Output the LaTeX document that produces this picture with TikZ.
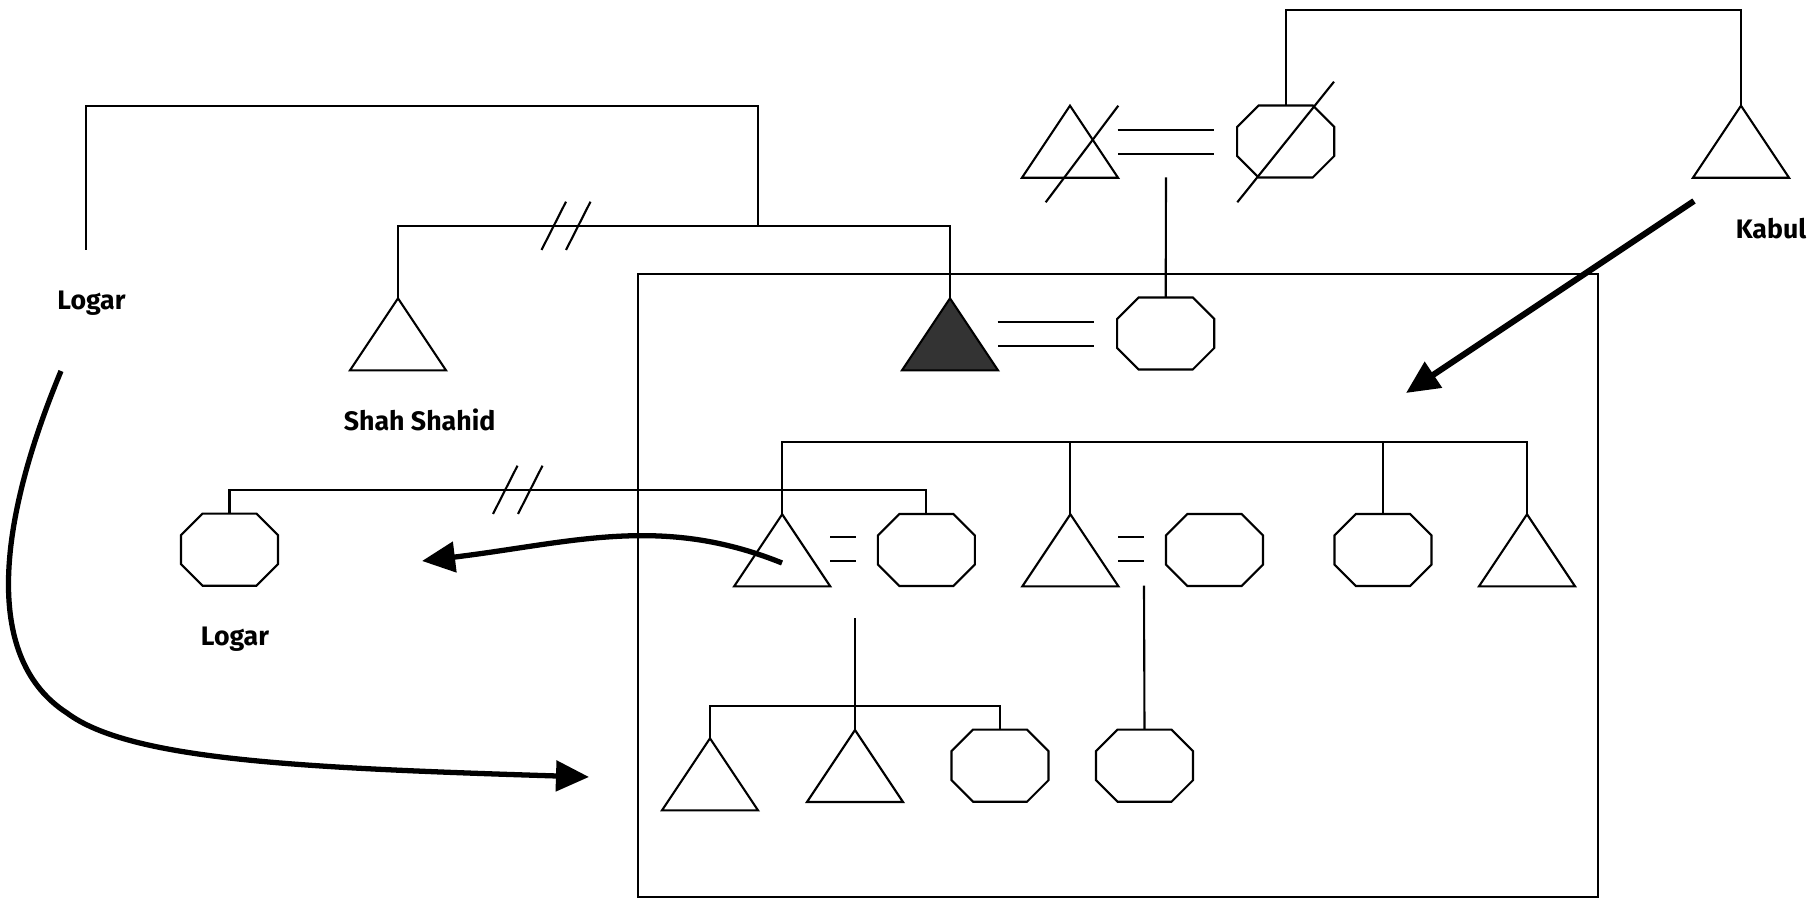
\documentclass[tikz,border=0pt]{standalone}
\usepackage{fontspec}
\setmainfont{Fira Sans}
\usetikzlibrary{arrows.meta,calc,shapes.geometric}
\tikzset{
	male/.style={isosceles triangle, isosceles triangle stretches, shape border rotate=90,
			minimum width=0.96cm, minimum height=0.72cm, inner sep=0pt, outer sep=0pt, draw, anchor=apex},
	female/.style={rectangle, minimum width=0.97cm, minimum height=0.72cm, inner sep=0pt, outer sep=0pt},
	place/.style={font=\fontsize{7.6}{9}\selectfont\bfseries, inner sep=0pt, anchor=base},
	married/.style={double, double distance=0.22cm},
	migration/.style={line width=1.5pt, -{Triangle[length=0.33cm, width=0.3cm]}}
}

\begin{document}
\begin{tikzpicture}[x=0.01cm, y=-0.01cm, line width=0.6pt]
        \useasboundingbox (0,0) rectangle (1817,898);

        % Household box
        \draw (637.7,274) rectangle (1598,897.3);

        % Grandparents and Kabul
        \node[male] (grandpa) at (1070,105.7) {};
        \node[female] (grandma) at (1285.7,141.5) {};
        \node[male] (kabul) at (1741,105.7) {};
        \draw (1045.7,202.3) -- (1118.3,105.7);
        \draw (1237.3,202.3) -- (1334,81.7);
        \draw[married] ($(grandpa.apex)+(47.7,36.3)$) -- ++(96.6,0);
        \coordinate (topdesc) at (1166,177.3);
        \draw (grandma.north) -- ++(0,-95.7) -| (kabul.apex);
        \node[place] (lblkabul) at (1771,238.3) {Kabul};

        % Ego generation
        \node[male] (shah) at (398,298.3) {};
        \node[male, fill=black!80] (ego) at (950,298.3) {};
        \node[female] (wife) at (1165.7,333.5) {};
        \draw[married] ($(ego.apex)+(47.7,35.4)$) -- ++(96.6,0);
        \draw (topdesc) -- (wife.north);
        \draw (shah.apex) -- ++(0,-72.3) -| (ego.apex);
        \node[place] (lblshah) at (419.6,430.5) {Shah Shahid};

        % Logar line
        \coordinate (logartop) at (86,250);
        \coordinate (shahjoin) at (758,226);
        \draw (logartop) -- ++(0,-144.3) -| (shahjoin);
        \node[place] (lbllogar) at (91.5,309.3) {Logar};

        % Broken links
        \foreach \x/\y in {541.5/250, 566/250, 493/514, 518/514} {
            \draw (\x,\y) -- ++(24.5,-48.3);
        }

        % Children
        \node[male] (sonA) at (782.2,514.3) {};
        \node[female] (wifeA) at (926.4,550) {};
        \node[male] (sonB) at (1070.4,514.3) {};
        \node[female] (wifeB) at (1214.5,550) {};
        \node[female] (daughter) at (1383,550) {};
        \node[male] (sonC) at (1527,514.3) {};
        \draw (sonA.apex) -- ++(0,-72.3) -| (sonC.apex);
        \draw (sonB.apex) -- ++(0,-72.3);
        \draw (daughter.north) -- ++(0,-72);
        \draw[married] ($(sonA.apex)+(47.8,35)$) -- ++(26,0);
        \draw[married] ($(sonB.apex)+(47.8,35)$) -- ++(26,0);

        % Logar wife
        \node[female] (exwife) at (229.5,549.7) {};
        \draw (wifeA.north) -- ++(0,-24.3) -| (exwife.north);
        \node[place] (lbllogarb) at (235,646) {Logar};

        % Grandchildren
        \node[male] (gcA) at (710,738.3) {};
        \node[male] (gcB) at (855,730) {};
        \node[female] (gcC) at (1000,765.7) {};
        \node[female] (gcD) at (1144.5,765.7) {};
        \coordinate (descA) at (855,618.3);
        \coordinate (descB) at (1144,585.7);
        \draw (descA) -- (gcB.apex);
        \draw (gcA.apex) -- ++(0,-32.3) -| (gcC.north);
        \draw (descB) -- (gcD.north);

        % Octagons
        \foreach \n in {grandma, wife, wifeA, wifeB, daughter, exwife, gcC, gcD} {
            \draw ($(\n.north west)+(21.5,0)$) -- ($(\n.north east)+(-21.5,0)$)
                -- ($(\n.north east)+(0,21.5)$) -- ($(\n.south east)+(0,-21.5)$)
                -- ($(\n.south east)+(-21.5,0)$) -- ($(\n.south west)+(21.5,0)$)
                -- ($(\n.south west)+(0,-21.5)$) -- ($(\n.north west)+(0,21.5)$) -- cycle;
        }

        % Moves
        \draw[migration, line width=1.7pt] (1694,201) -- (1406,393);
        \draw[migration] (782,563) .. controls (661,514) and (571,543) .. (422,561);
        \draw[migration] (61,371) .. controls (-5,530) and (-15,660) .. (67,713)
            .. controls (130,760) and (300,768) .. (589,777);

    \end{tikzpicture}
\end{document}
